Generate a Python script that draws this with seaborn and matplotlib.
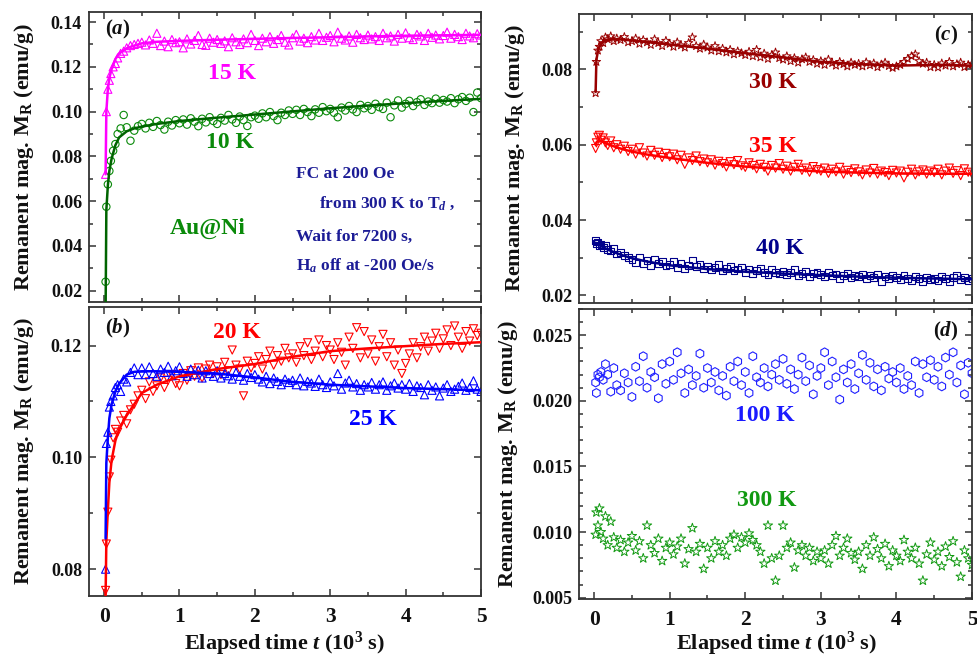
import numpy as np
import matplotlib
matplotlib.use("Agg")
import matplotlib.pyplot as plt
import seaborn as sns
from matplotlib.ticker import MultipleLocator, FormatStrFormatter

sns.set_theme(style="ticks")
plt.rcParams['font.family'] = ['Liberation Serif', 'DejaVu Serif']
plt.rcParams['font.weight'] = 'bold'
plt.rcParams['mathtext.fontset'] = 'custom'
plt.rcParams['mathtext.rm'] = 'Liberation Serif:bold'
plt.rcParams['mathtext.it'] = 'Liberation Serif:italic:bold'
plt.rcParams['mathtext.bf'] = 'Liberation Serif:bold'

# ---- measurement times (10^3 s) ----
T = [0.02, 0.03, 0.05, 0.07, 0.09, 0.12, 0.15, 0.18, 0.22, 0.26, 0.30, 0.35, 0.40, 0.45,
     0.50, 0.55, 0.60, 0.65, 0.70, 0.75, 0.80, 0.85, 0.90, 0.95,
     1.00, 1.05, 1.10, 1.15, 1.20, 1.25, 1.30, 1.35, 1.40, 1.45,
     1.50, 1.55, 1.60, 1.65, 1.70, 1.75, 1.80, 1.85, 1.90, 1.95,
     2.00, 2.05, 2.10, 2.15, 2.20, 2.25, 2.30, 2.35, 2.40, 2.45,
     2.50, 2.55, 2.60, 2.65, 2.70, 2.75, 2.80, 2.85, 2.90, 2.95,
     3.00, 3.05, 3.10, 3.15, 3.20, 3.25, 3.30, 3.35, 3.40, 3.45,
     3.50, 3.55, 3.60, 3.65, 3.70, 3.75, 3.80, 3.85, 3.90, 3.95,
     4.00, 4.05, 4.10, 4.15, 4.20, 4.25, 4.30, 4.35, 4.40, 4.45,
     4.50, 4.55, 4.60, 4.65, 4.70, 4.75, 4.80, 4.85, 4.90, 4.95,
     5.00]

# ---- remanent magnetization M_R (emu/g) ----
M15 = [0.0720, 0.1000, 0.1100, 0.1140, 0.1170, 0.1200, 0.1215, 0.1240, 0.1260, 0.1270, 0.1285, 0.1295, 0.1300, 0.1305,
       0.1310, 0.1298, 0.1320, 0.1305, 0.1350, 0.1295, 0.1315, 0.1290, 0.1322, 0.1308,
       0.1312, 0.1285, 0.1325, 0.1302, 0.1318, 0.1340, 0.1300, 0.1296, 0.1328, 0.1310,
       0.1322, 0.1305, 0.1316, 0.1290, 0.1330, 0.1312, 0.1300, 0.1325, 0.1308, 0.1345,
       0.1318, 0.1295, 0.1328, 0.1312, 0.1335, 0.1305, 0.1322, 0.1340, 0.1310, 0.1298,
       0.1330, 0.1345, 0.1315, 0.1328, 0.1308, 0.1335, 0.1320, 0.1350, 0.1318, 0.1332,
       0.1340, 0.1312, 0.1355, 0.1328, 0.1320, 0.1338, 0.1310, 0.1345, 0.1330, 0.1322,
       0.1342, 0.1325, 0.1335, 0.1318, 0.1350, 0.1330, 0.1338, 0.1315, 0.1345, 0.1328,
       0.1352, 0.1330, 0.1322, 0.1345, 0.1338, 0.1318, 0.1350, 0.1332, 0.1342, 0.1325,
       0.1340, 0.1355, 0.1328, 0.1345, 0.1335, 0.1322, 0.1350, 0.1338, 0.1330, 0.1348,
       0.1342]

M10 = [0.0240, 0.0575, 0.0675, 0.0735, 0.0780, 0.0825, 0.0855, 0.0900, 0.0925, 0.0985, 0.0930, 0.0870, 0.0915, 0.0935,
       0.0945, 0.0925, 0.0950, 0.0932, 0.0958, 0.0940, 0.0920, 0.0955, 0.0938, 0.0962,
       0.0948, 0.0965, 0.0942, 0.0970, 0.0955, 0.0935, 0.0968, 0.0952, 0.0975, 0.0958,
       0.0945, 0.0972, 0.0960, 0.0985, 0.0965, 0.0950, 0.0978, 0.0962, 0.0936, 0.0975,
       0.0982, 0.0968, 0.0992, 0.0975, 0.0998, 0.0980, 0.0962, 0.0995, 0.0985, 0.1005,
       0.0990, 0.1008, 0.0985, 0.1012, 0.0998, 0.0980, 0.1010, 0.0995, 0.1020, 0.1002,
       0.1012, 0.0995, 0.0975, 0.1018, 0.1005, 0.1025, 0.1010, 0.0998, 0.1030, 0.1015,
       0.1025, 0.1008, 0.1035, 0.1020, 0.1012, 0.1040, 0.0975, 0.1028, 0.1050, 0.1018,
       0.1035, 0.1048, 0.1025, 0.1042, 0.1055, 0.1030, 0.1045, 0.1038, 0.1058, 0.1040,
       0.1052, 0.1045, 0.1060, 0.1038, 0.1055, 0.1065, 0.1048, 0.1062, 0.0998, 0.1085,
       0.1060]

M20 = [0.0762, 0.0845, 0.0902, 0.0965, 0.0995, 0.1035, 0.1050, 0.1045, 0.1065, 0.1075, 0.1060, 0.1085, 0.1095, 0.1110,
       0.1120, 0.1105, 0.1135, 0.1118, 0.1128, 0.1142, 0.1125, 0.1138, 0.1148, 0.1132,
       0.1128, 0.1150, 0.1138, 0.1155, 0.1145, 0.1160, 0.1142, 0.1158, 0.1165, 0.1150,
       0.1162, 0.1148, 0.1170, 0.1155, 0.1192, 0.1165, 0.1158, 0.1110, 0.1172, 0.1160,
       0.1168, 0.1180, 0.1158, 0.1175, 0.1190, 0.1165, 0.1182, 0.1172, 0.1195, 0.1178,
       0.1185, 0.1170, 0.1198, 0.1182, 0.1205, 0.1175, 0.1190, 0.1210, 0.1180, 0.1200,
       0.1192, 0.1175, 0.1205, 0.1188, 0.1165, 0.1215, 0.1195, 0.1232, 0.1178, 0.1225,
       0.1185, 0.1210, 0.1172, 0.1198, 0.1220, 0.1180, 0.1205, 0.1165, 0.1192, 0.1150,
       0.1168, 0.1185, 0.1205, 0.1178, 0.1198, 0.1215, 0.1190, 0.1208, 0.1222, 0.1195,
       0.1212, 0.1228, 0.1200, 0.1235, 0.1215, 0.1195, 0.1225, 0.1208, 0.1230, 0.1218,
       0.1222]

M25 = [0.0800, 0.1025, 0.1045, 0.1090, 0.1100, 0.1110, 0.1125, 0.1130, 0.1118, 0.1140, 0.1135, 0.1152, 0.1160, 0.1148,
       0.1160, 0.1148, 0.1162, 0.1150, 0.1145, 0.1158, 0.1152, 0.1163, 0.1146, 0.1155,
       0.1162, 0.1150, 0.1145, 0.1158, 0.1148, 0.1156, 0.1142, 0.1155, 0.1150, 0.1145,
       0.1155, 0.1142, 0.1150, 0.1146, 0.1140, 0.1152, 0.1145, 0.1138, 0.1150, 0.1143,
       0.1148, 0.1140, 0.1135, 0.1145, 0.1132, 0.1142, 0.1136, 0.1130, 0.1140, 0.1134,
       0.1138, 0.1130, 0.1142, 0.1128, 0.1136, 0.1133, 0.1127, 0.1140, 0.1130, 0.1125,
       0.1135, 0.1128, 0.1150, 0.1122, 0.1133, 0.1138, 0.1126, 0.1132, 0.1120, 0.1130,
       0.1126, 0.1134, 0.1122, 0.1130, 0.1135, 0.1120, 0.1128, 0.1133, 0.1124, 0.1130,
       0.1122, 0.1132, 0.1118, 0.1128, 0.1125, 0.1112, 0.1130, 0.1120, 0.1126, 0.1110,
       0.1124, 0.1130, 0.1118, 0.1122, 0.1127, 0.1133, 0.1120, 0.1125, 0.1137, 0.1122,
       0.1118]

M30 = [0.0737, 0.0820, 0.0850, 0.0860, 0.0875, 0.0870, 0.0885, 0.0880, 0.0888, 0.0875, 0.0882, 0.0878, 0.0886, 0.0872,
       0.0875, 0.0882, 0.0868, 0.0878, 0.0872, 0.0865, 0.0880, 0.0870, 0.0862, 0.0876,
       0.0868, 0.0860, 0.0872, 0.0864, 0.0858, 0.0870, 0.0885, 0.0862, 0.0855, 0.0866,
       0.0858, 0.0850, 0.0862, 0.0848, 0.0855, 0.0845, 0.0852, 0.0840, 0.0848, 0.0843,
       0.0838, 0.0847, 0.0835, 0.0852, 0.0832, 0.0842, 0.0828, 0.0838, 0.0845, 0.0830,
       0.0826, 0.0835, 0.0822, 0.0830, 0.0818, 0.0827, 0.0832, 0.0820, 0.0825, 0.0815,
       0.0822, 0.0812, 0.0826, 0.0817, 0.0810, 0.0820, 0.0814, 0.0808, 0.0818, 0.0812,
       0.0815, 0.0808, 0.0819, 0.0811, 0.0816, 0.0806, 0.0813, 0.0818, 0.0809, 0.0804,
       0.0808, 0.0812, 0.0820, 0.0828, 0.0835, 0.0840, 0.0822, 0.0815, 0.0818, 0.0806,
       0.0812, 0.0805, 0.0816, 0.0810, 0.0820, 0.0808, 0.0814, 0.0818, 0.0806, 0.0812,
       0.0815]

M35 = [0.0590, 0.0605, 0.0620, 0.0625, 0.0612, 0.0618, 0.0605, 0.0598, 0.0610, 0.0592, 0.0600, 0.0588, 0.0596, 0.0582,
       0.0588, 0.0575, 0.0592, 0.0578, 0.0570, 0.0585, 0.0572, 0.0580, 0.0566, 0.0577,
       0.0568, 0.0575, 0.0560, 0.0572, 0.0548, 0.0565, 0.0558, 0.0570, 0.0555, 0.0562,
       0.0552, 0.0560, 0.0546, 0.0556, 0.0550, 0.0541, 0.0555, 0.0547, 0.0558, 0.0544,
       0.0540, 0.0552, 0.0545, 0.0536, 0.0548, 0.0540, 0.0530, 0.0545, 0.0538, 0.0550,
       0.0535, 0.0543, 0.0530, 0.0540, 0.0548, 0.0532, 0.0538, 0.0527, 0.0542, 0.0534,
       0.0530, 0.0538, 0.0524, 0.0535, 0.0528, 0.0540, 0.0522, 0.0532, 0.0526, 0.0536,
       0.0528, 0.0520, 0.0533, 0.0525, 0.0537, 0.0522, 0.0530, 0.0526, 0.0518, 0.0532,
       0.0525, 0.0530, 0.0512, 0.0527, 0.0535, 0.0520, 0.0528, 0.0533, 0.0522, 0.0530,
       0.0526, 0.0535, 0.0520, 0.0530, 0.0538, 0.0524, 0.0531, 0.0518, 0.0536, 0.0527,
       0.0522]

M40 = [0.0345, 0.0338, 0.0342, 0.0333, 0.0336, 0.0328, 0.0332, 0.0322, 0.0318, 0.0325, 0.0310, 0.0315, 0.0305, 0.0300,
       0.0295, 0.0288, 0.0302, 0.0285, 0.0292, 0.0280, 0.0296, 0.0284, 0.0290, 0.0278,
       0.0282, 0.0290, 0.0275, 0.0285, 0.0272, 0.0280, 0.0294, 0.0276, 0.0283, 0.0270,
       0.0278, 0.0268, 0.0275, 0.0282, 0.0265, 0.0272, 0.0278, 0.0266, 0.0270, 0.0275,
       0.0262, 0.0270, 0.0258, 0.0266, 0.0272, 0.0260, 0.0255, 0.0268, 0.0262, 0.0257,
       0.0264, 0.0255, 0.0260, 0.0268, 0.0252, 0.0259, 0.0264, 0.0250, 0.0258, 0.0262,
       0.0255, 0.0250, 0.0260, 0.0252, 0.0257, 0.0246, 0.0254, 0.0259, 0.0248, 0.0253,
       0.0250, 0.0256, 0.0244, 0.0252, 0.0248, 0.0255, 0.0238, 0.0250, 0.0246, 0.0253,
       0.0248, 0.0243, 0.0252, 0.0246, 0.0240, 0.0250, 0.0245, 0.0238, 0.0248, 0.0243,
       0.0246, 0.0240, 0.0250, 0.0244, 0.0238, 0.0247, 0.0252, 0.0242, 0.0248, 0.0239,
       0.0244]

M100 = [0.0214, 0.0206, 0.0220, 0.0218, 0.0222, 0.0216, 0.0228, 0.0220, 0.0207, 0.0225, 0.0212, 0.0208, 0.0221, 0.0214,
        0.0203, 0.0226, 0.0215, 0.0234, 0.0210, 0.0222, 0.0218, 0.0202, 0.0228, 0.0213,
        0.0230, 0.0216, 0.0237, 0.0221, 0.0206, 0.0224, 0.0212, 0.0219, 0.0236, 0.0210,
        0.0225, 0.0214, 0.0222, 0.0208, 0.0219, 0.0204, 0.0226, 0.0215, 0.0230, 0.0212,
        0.0222, 0.0206, 0.0234, 0.0218, 0.0214, 0.0225, 0.0211, 0.0220, 0.0228, 0.0216,
        0.0232, 0.0213, 0.0224, 0.0209, 0.0220, 0.0233, 0.0215, 0.0227, 0.0205, 0.0219,
        0.0225, 0.0237, 0.0212, 0.0230, 0.0218, 0.0201, 0.0224, 0.0214, 0.0228, 0.0209,
        0.0221, 0.0235, 0.0216, 0.0229, 0.0211, 0.0224, 0.0208, 0.0226, 0.0217, 0.0222,
        0.0214, 0.0225, 0.0209, 0.0219, 0.0212, 0.0230, 0.0206, 0.0228, 0.0218, 0.0231,
        0.0216, 0.0226, 0.0211, 0.0233, 0.0220, 0.0237, 0.0214, 0.0227, 0.0205, 0.0229,
        0.0221]

M300 = [0.0098, 0.0115, 0.0105, 0.0118, 0.0100, 0.0095, 0.0112, 0.0090, 0.0108, 0.0096, 0.0088, 0.0094, 0.0085, 0.0092,
        0.0097, 0.0086, 0.0093, 0.0080, 0.0105, 0.0090, 0.0084, 0.0095, 0.0078, 0.0088,
        0.0092, 0.0083, 0.0089, 0.0095, 0.0076, 0.0087, 0.0103, 0.0085, 0.0091, 0.0072,
        0.0088, 0.0080, 0.0093, 0.0085, 0.0090, 0.0082, 0.0095, 0.0098, 0.0088, 0.0096,
        0.0092, 0.0099, 0.0094, 0.0090, 0.0085, 0.0076, 0.0105, 0.0080, 0.0063, 0.0082,
        0.0105, 0.0088, 0.0092, 0.0073, 0.0086, 0.0090, 0.0082, 0.0088, 0.0078, 0.0085,
        0.0080, 0.0086, 0.0076, 0.0090, 0.0097, 0.0082, 0.0088, 0.0095, 0.0084, 0.0079,
        0.0085, 0.0072, 0.0090, 0.0082, 0.0096, 0.0087, 0.0080, 0.0091, 0.0074, 0.0086,
        0.0082, 0.0078, 0.0094, 0.0085, 0.0080, 0.0088, 0.0076, 0.0063, 0.0083, 0.0092,
        0.0079, 0.0085, 0.0074, 0.0089, 0.0081, 0.0093, 0.0077, 0.0066, 0.0086, 0.0080,
        0.0075]

# ---- fitted relaxation curves ----
TF = [0.02, 0.03, 0.05, 0.07, 0.10, 0.15, 0.20, 0.30, 0.40, 0.50, 0.70, 1.00,
      1.50, 2.00, 2.50, 3.00, 3.50, 4.00, 4.50, 5.00]
F15 = [0.0720, 0.1000, 0.1100, 0.1150, 0.1190, 0.1235, 0.1260, 0.1283, 0.1295, 0.1305,
       0.1312, 0.1316, 0.1321, 0.1325, 0.1329, 0.1332, 0.1336, 0.1339, 0.1341, 0.1343]
F10 = [0.0100, 0.0560, 0.0670, 0.0735, 0.0790, 0.0850, 0.0885, 0.0912, 0.0925, 0.0933,
       0.0945, 0.0958, 0.0973, 0.0987, 0.1001, 0.1015, 0.1027, 0.1038, 0.1048, 0.1057]
F20 = [0.0750, 0.0850, 0.0905, 0.0955, 0.0995, 0.1030, 0.1050, 0.1075, 0.1095, 0.1115,
       0.1130, 0.1145, 0.1158, 0.1167, 0.1180, 0.1190, 0.1195, 0.1199, 0.1203, 0.1206]
F25 = [0.0855, 0.0990, 0.1035, 0.1070, 0.1095, 0.1118, 0.1132, 0.1148, 0.1153, 0.1154,
       0.1154, 0.1153, 0.1150, 0.1143, 0.1135, 0.1130, 0.1127, 0.1124, 0.1122, 0.1120]
F30 = [0.0740, 0.0825, 0.0848, 0.0860, 0.0870, 0.0876, 0.0879, 0.0880, 0.0879, 0.0877,
       0.0873, 0.0866, 0.0855, 0.0843, 0.0832, 0.0820, 0.0814, 0.0810, 0.0812, 0.0810]
F35 = [0.0600, 0.0606, 0.0610, 0.0611, 0.0609, 0.0605, 0.0600, 0.0593, 0.0587, 0.0582,
       0.0574, 0.0565, 0.0552, 0.0542, 0.0535, 0.0529, 0.0526, 0.0524, 0.0523, 0.0523]
F40 = [0.0340, 0.0338, 0.0336, 0.0333, 0.0330, 0.0325, 0.0320, 0.0312, 0.0305, 0.0299,
       0.0290, 0.0280, 0.0270, 0.0263, 0.0258, 0.0254, 0.0250, 0.0247, 0.0245, 0.0243]

# ---- colours ----
C_MAG = '#ff00ff'
C_GRN = '#0a8a0a'
C_GRN_LINE = '#006400'
C_RED = '#ff0000'
C_BLU = '#0000ff'
C_DRED = '#990000'
C_NAVY = '#00008b'
C_NOTE = '#1c1c96'
C_FRAME = '#333333'

fig = plt.figure(figsize=(9.78, 6.59), dpi=100)
W, H = 978.0, 659.0


def add_axes(l, r, t, b):
    return fig.add_axes([l / W, 1 - b / H, (r - l) / W, (b - t) / H])


ax_a = add_axes(89, 481, 12, 302)
ax_b = add_axes(89, 481, 307, 596)
ax_c = add_axes(579, 972, 14, 303)
ax_d = add_axes(579, 972, 309, 599)


def points(ax, y, color, marker, s=30, lw=0.8):
    sns.scatterplot(x=T, y=y, ax=ax, marker=marker, s=s, color=color,
                    facecolor='none', edgecolor=color, linewidth=lw,
                    legend=False, zorder=2)


def fit(ax, y, color, lw=1.8):
    sns.lineplot(x=TF, y=y, ax=ax, color=color, linewidth=lw, sort=False,
                 estimator=None, legend=False, zorder=3)


# (a) 15 K and 10 K
points(ax_a, M15, C_MAG, '^', s=34)
fit(ax_a, F15, C_MAG)
points(ax_a, M10, C_GRN, 'o', s=28)
fit(ax_a, F10, C_GRN_LINE)

# (b) 20 K and 25 K
points(ax_b, M20, C_RED, 'v', s=34)
fit(ax_b, F20, C_RED)
points(ax_b, M25, C_BLU, '^', s=34)
fit(ax_b, F25, C_BLU)

# (c) 30 K, 35 K, 40 K
points(ax_c, M30, C_DRED, '*', s=40, lw=0.7)
fit(ax_c, F30, C_DRED)
points(ax_c, M35, C_RED, 'v', s=34)
fit(ax_c, F35, C_RED)
points(ax_c, M40, C_NAVY, 's', s=24)
fit(ax_c, F40, C_NAVY)

# (d) 100 K and 300 K
points(ax_d, M100, '#2020ff', 'h', s=40)
points(ax_d, M300, '#119911', '*', s=50, lw=0.7)

limits = {
    ax_a: (0.01495, 0.1445, 0.02, 0.01, '%.2f'),
    ax_b: (0.0752, 0.1269, 0.02, 0.01, '%.2f'),
    ax_c: (0.0180, 0.0947, 0.02, 0.01, '%.2f'),
    ax_d: (0.0049, 0.0270, 0.005, 0.001, '%.3f'),
}

for ax, (lo, hi, major, minor, fmt) in limits.items():
    ax.set_xlim(-0.2, 5.0)
    ax.set_ylim(lo, hi)
    ax.xaxis.set_major_locator(MultipleLocator(1))
    ax.xaxis.set_minor_locator(MultipleLocator(0.5))
    ax.yaxis.set_major_locator(MultipleLocator(major))
    ax.yaxis.set_minor_locator(MultipleLocator(minor))
    ax.yaxis.set_major_formatter(FormatStrFormatter(fmt))
    ax.tick_params(which='both', direction='in', top=True, right=True,
                   color=C_FRAME, width=1.1)
    ax.tick_params(which='major', length=5, labelsize=13, pad=5,
                   labelcolor='#111111')
    ax.tick_params(which='minor', length=3)
    ax.tick_params(axis='x', which='major', pad=8, labelsize=15.5)
    for sp in ax.spines.values():
        sp.set_color(C_FRAME)
        sp.set_linewidth(1.3)
    for lab in ax.get_xticklabels() + ax.get_yticklabels():
        lab.set_fontweight('bold')
    ax.set_ylabel(r'Remanent mag. M$_{\mathrm{R}}$ (emu/g)', fontsize=16,
                  fontweight='bold', color='#111111')
    ax.set_xlabel('')

for ax in (ax_a, ax_c):
    ax.tick_params(labelbottom=False)

for ax in (ax_b, ax_d):
    ax.set_xlabel(r'Elapsed time $t$ (10$^{3}$ s)', fontsize=16,
                  fontweight='bold', color='#111111')

ax_a.yaxis.set_label_coords(-0.135, 0.5)
ax_b.yaxis.set_label_coords(-0.135, 0.5)
ax_c.yaxis.set_label_coords(-0.132, 0.5)
ax_d.yaxis.set_label_coords(-0.150, 0.5)
ax_b.xaxis.set_label_coords(0.5, -0.117)
ax_d.xaxis.set_label_coords(0.503, -0.107)

# panel tags
tag_kw = dict(fontsize=15, fontweight='bold', color='#111111', va='center')
ax_a.text(0.04, 0.94, r'($a$)', transform=ax_a.transAxes, ha='left', **tag_kw)
ax_b.text(0.04, 0.924, r'($b$)', transform=ax_b.transAxes, ha='left', **tag_kw)
ax_c.text(0.965, 0.927, r'($c$)', transform=ax_c.transAxes, ha='right', **tag_kw)
ax_d.text(0.965, 0.924, r'($d$)', transform=ax_d.transAxes, ha='right', **tag_kw)

# series labels
lab_kw = dict(fontsize=17, fontweight='bold', ha='center', va='center')
ax_a.text(1.70, 0.1172, '15 K', color=C_MAG, **lab_kw)
ax_a.text(1.67, 0.0862, '10 K', color=C_GRN, **lab_kw)
ax_a.text(1.38, 0.0476, 'Au@Ni', color=C_GRN, **lab_kw)
ax_b.text(1.76, 0.1223, '20 K', color=C_RED, **lab_kw)
ax_b.text(3.56, 0.1067, '25 K', color=C_BLU, **lab_kw)
ax_c.text(2.37, 0.0766, '30 K', color=C_DRED, **lab_kw)
ax_c.text(2.37, 0.0596, '35 K', color=C_RED, **lab_kw)
ax_c.text(2.46, 0.0325, '40 K', color=C_NAVY, **lab_kw)
ax_d.text(2.26, 0.01887, '100 K', color='#1a1aff', **lab_kw)
ax_d.text(2.29, 0.01239, '300 K', color='#119911', **lab_kw)

# protocol note
note_kw = dict(fontsize=12.5, fontweight='bold', color=C_NOTE, ha='left', va='center')
ax_a.text(2.55, 0.0722, 'FC at 200 Oe', **note_kw)
ax_a.text(2.85, 0.0592, r'from 300 K to T$_{d}$ ,', **note_kw)
ax_a.text(2.55, 0.0440, 'Wait for 7200 s,', **note_kw)
ax_a.text(2.55, 0.0310, r'H$_{a}$ off at -200 Oe/s', **note_kw)

fig.savefig('out.png', dpi=100, facecolor='white')
